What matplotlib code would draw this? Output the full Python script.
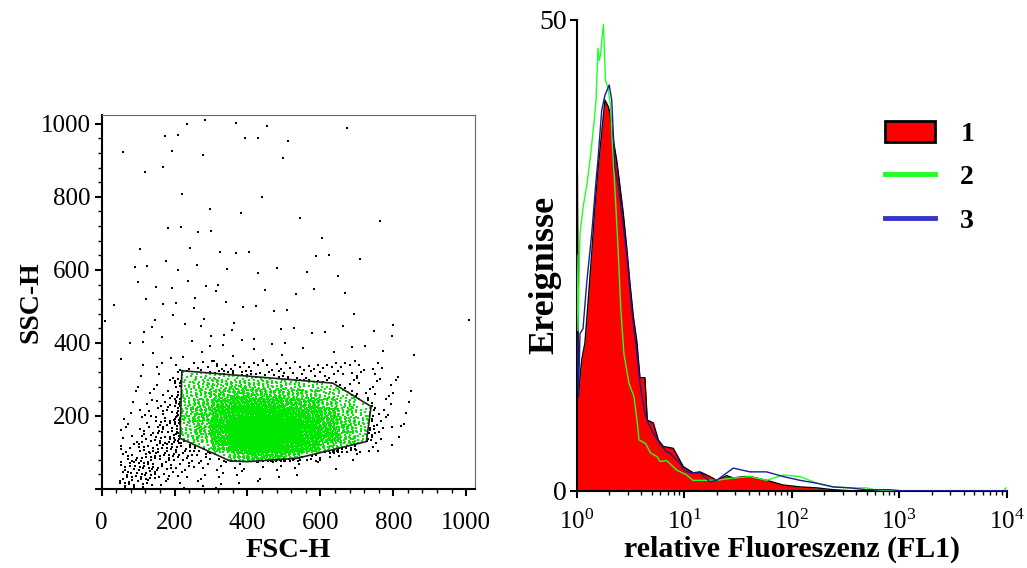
import numpy as np
import matplotlib
matplotlib.use('Agg')
import matplotlib.pyplot as plt
from matplotlib.path import Path
from matplotlib.patches import Patch, Polygon
from matplotlib.lines import Line2D
from matplotlib.ticker import MultipleLocator, LogLocator, NullFormatter

plt.rcParams['font.family'] = ['Liberation Serif', 'DejaVu Serif']
plt.rcParams['mathtext.fontset'] = 'custom'
plt.rcParams['mathtext.rm'] = 'Liberation Serif'
plt.rcParams['mathtext.it'] = 'Liberation Serif:italic'
plt.rcParams['mathtext.bf'] = 'Liberation Serif:bold'

# ---- Punktwolke FSC/SSC: Ereignisse je Zelle ----
# feines Raster: Zellen 50 (FSC) x 25 (SSC)
dichte_x0 = [50, 100, 150, 200, 250, 300, 350, 400, 450, 500, 550, 600, 650, 700, 750, 800]
dichte_y0 = [0, 25, 50, 75, 100, 125, 150, 175, 200, 225, 250, 275, 300, 325]
dichte_n = [
    [10, 6, 3, 2, 2, 2, 1, 1, 0, 0, 0, 0, 0, 0, 0, 0],
    [10, 12, 5, 3, 2, 2, 2, 1, 1, 1, 0, 0, 0, 0, 0, 0],
    [9, 12, 8, 5, 4, 3, 3, 2, 2, 2, 1, 1, 0, 0, 0, 0],
    [7, 10, 10, 8, 6, 6, 32, 40, 40, 30, 8, 3, 2, 1, 0, 0],
    [5, 9, 11, 10, 10, 38, 80, 100, 100, 80, 50, 28, 14, 3, 2, 0],
    [3, 7, 11, 13, 22, 55, 110, 130, 125, 105, 70, 45, 28, 12, 2, 1],
    [2, 5, 10, 18, 30, 60, 120, 135, 125, 105, 75, 48, 30, 14, 3, 1],
    [2, 4, 8, 20, 32, 60, 110, 120, 110, 90, 65, 45, 28, 14, 3, 1],
    [1, 3, 6, 20, 32, 52, 85, 90, 80, 68, 52, 36, 22, 11, 3, 1],
    [1, 2, 5, 18, 28, 40, 55, 55, 50, 42, 36, 26, 15, 6, 2, 1],
    [1, 2, 3, 15, 22, 28, 34, 34, 30, 26, 22, 16, 10, 3, 2, 1],
    [0, 1, 2, 12, 18, 21, 22, 20, 18, 15, 12, 10, 4, 2, 2, 1],
    [0, 1, 2, 8, 12, 13, 11, 9, 7, 5, 4, 4, 3, 2, 2, 1],
    [0, 1, 2, 3, 4, 5, 4, 4, 4, 4, 4, 4, 4, 3, 2, 0],
]
# grobes Raster fuer vereinzelte Ereignisse: Zellen 100 x 100
streu_x0 = [0, 100, 200, 300, 400, 500, 600, 700, 800, 900, 1000]
streu_y0 = [350, 450, 550, 650, 750, 850, 950]
streu_n = [
    [2, 6, 6, 6, 6, 4, 4, 5, 1, 0, 0],
    [2, 5, 5, 4, 3, 3, 2, 0, 0, 0, 1],
    [1, 4, 4, 3, 3, 2, 2, 1, 0, 0, 0],
    [0, 2, 3, 2, 0, 1, 1, 1, 0, 0, 0],
    [0, 0, 2, 1, 1, 0, 0, 0, 0, 0, 0],
    [1, 3, 1, 0, 1, 0, 0, 0, 0, 0, 0],
    [0, 1, 3, 2, 2, 1, 1, 0, 0, 0, 0],
]
# Gate (Polygon)
gate_x = [220, 634, 739, 726, 535, 400, 352, 215]
gate_y = [324, 290, 226, 130, 84, 75, 77, 139]

# ---- Histogramme FL1 (Lage in Dekaden, Ereignisse) ----
h1_dek = [0.000, 0.007, 0.015, 0.047, 0.077, 0.108, 0.140, 0.170, 0.201, 0.233, 0.263,
          0.294, 0.310, 0.340, 0.372, 0.403, 0.433, 0.465, 0.496, 0.527, 0.558,
          0.589, 0.635, 0.657, 0.713, 0.759, 0.806, 0.899, 0.992, 1.085, 1.147,
          1.240, 1.302, 1.395, 1.457, 1.550, 1.612, 1.767, 1.922, 2.078, 2.233,
          2.387, 2.540, 4.000]
h1_wert = [33.7, 33.7, 10.0, 13.9, 15.7, 20.3, 25.2, 30.2, 34.4, 38.0, 41.5,
           40.8, 40.1, 37.3, 35.1, 32.3, 29.5, 25.9, 22.0, 18.5, 16.0,
           12.0, 12.0, 7.5, 7.2, 5.4, 4.7, 4.5, 2.55, 1.9, 2.0,
           1.5, 1.1, 1.6, 1.35, 1.5, 1.5, 1.1, 0.6, 0.4, 0.3,
           0.1, 0.0, 0.0]
h2_dek = [0.003, 0.012, 0.031, 0.061, 0.099, 0.130, 0.164, 0.180, 0.198, 0.210,
          0.223, 0.238, 0.249, 0.268, 0.291, 0.314, 0.331, 0.356, 0.384, 0.412,
          0.440, 0.487, 0.533, 0.564, 0.580, 0.642, 0.688, 0.750, 0.775, 0.837,
          0.930, 1.023, 1.082, 1.147, 1.302, 1.457, 1.612, 1.767, 1.922, 2.078,
          2.233, 2.387, 2.542, 2.698, 2.775, 2.868, 3.975, 3.994]
h2_wert = [25.0, 17.0, 27.3, 30.2, 32.8, 35.7, 39.4, 41.5, 47.0, 45.7,
           46.3, 48.4, 49.5, 43.6, 42.8, 41.0, 37.0, 32.0, 26.0, 19.0,
           14.5, 11.4, 10.0, 7.2, 5.4, 5.0, 4.0, 3.6, 3.1, 3.2,
           2.2, 1.67, 1.1, 1.1, 1.1, 1.35, 1.5, 1.1, 1.67, 1.5,
           0.8, 0.4, 0.3, 0.3, 0.1, 0.0, 0.0, 0.3]
h3_dek = [0.003, 0.017, 0.031, 0.059, 0.093, 0.140, 0.186, 0.198, 0.233, 0.263,
          0.303, 0.326, 0.356, 0.387, 0.419, 0.465, 0.512, 0.558, 0.589, 0.635,
          0.666, 0.713, 0.775, 0.837, 0.868, 0.961, 0.992, 1.054, 1.147, 1.240,
          1.302, 1.457, 1.612, 1.767, 1.922, 2.078, 2.233, 2.387, 2.542, 2.698,
          2.914, 3.007, 4.000]
h3_wert = [16.7, 10.0, 16.7, 17.2, 22.0, 27.3, 33.7, 35.1, 40.4, 42.0,
           43.1, 41.5, 34.4, 32.3, 29.5, 25.2, 19.2, 14.9, 11.4, 8.2,
           7.2, 6.1, 5.0, 4.1, 4.0, 2.9, 2.2, 1.9, 1.9, 0.95,
           1.1, 2.4, 2.0, 2.0, 1.5, 1.1, 0.8, 0.4, 0.3, 0.1,
           0.1, 0.0, 0.0]


def zell_punkte(x0, y0, b, h, n, start):
    # gleichmaessige Verteilung der n Ereignisse in der Zelle (R2-Folge)
    k = np.arange(n) + start
    u = (0.5 + k * 0.7548776662466927) % 1.0
    v = (0.5 + k * 0.5698402909980532) % 1.0
    return x0 + u * b, y0 + v * h


px, py = [], []
for i, y0 in enumerate(dichte_y0):
    for j, x0 in enumerate(dichte_x0):
        a, b = zell_punkte(x0, y0, 50, 25, dichte_n[i][j], (i * 16 + j) * 53)
        px.append(a)
        py.append(b)
for i, y0 in enumerate(streu_y0):
    for j, x0 in enumerate(streu_x0):
        hh = min(100, 1024 - y0)
        bb = min(100, 1024 - x0)
        a, b = zell_punkte(x0, y0, bb, hh, streu_n[i][j], (i * 11 + j) * 71 + 7)
        px.append(a)
        py.append(b)
px = np.concatenate(px)
py = np.concatenate(py)

gate = np.column_stack([gate_x, gate_y])
innen = Path(gate).contains_points(np.column_stack([px, py]))

fig = plt.figure(figsize=(10.27, 5.68), dpi=100)
ax1 = fig.add_axes([0.099, 0.139, 0.3635, 0.6585])
ax2 = fig.add_axes([0.5615, 0.1361, 0.4187, 0.8287])

# ---- linkes Diagramm ----
ax1.scatter(px[~innen], py[~innen], s=0.6, marker='s', color='black', linewidths=0)
ax1.scatter(px[innen], py[innen], s=0.6, marker='s', color='#00e800', linewidths=0)
ax1.add_patch(Polygon(gate, closed=True, fill=False, edgecolor='#222222', linewidth=1.2))
ax1.set_xlim(0, 1024)
ax1.set_ylim(0, 1024)
ax1.set_xticks([0, 200, 400, 600, 800, 1000])
ax1.set_yticks([0, 200, 400, 600, 800, 1000], ['', '200', '400', '600', '800', '1000'])
ax1.xaxis.set_minor_locator(MultipleLocator(40))
ax1.yaxis.set_minor_locator(MultipleLocator(40))
for s in ['top', 'right']:
    ax1.spines[s].set_color('#666666')
    ax1.spines[s].set_linewidth(0.8)
for s in ['left', 'bottom']:
    ax1.spines[s].set_linewidth(1.5)
ax1.tick_params(which='major', direction='out', length=5, width=1.5, labelsize=18)
ax1.tick_params(which='minor', direction='out', length=3, width=1)
ax1.tick_params(axis='x', which='major', pad=11.5)
ax1.tick_params(axis='y', which='major', pad=3)
ax1.set_xlabel('FSC-H', fontsize=20.5, fontweight='bold', labelpad=3)
ax1.set_ylabel('SSC-H', fontsize=20, fontweight='bold')
ax1.yaxis.set_label_coords(-0.157, 0.5)

# ---- rechtes Diagramm ----
x1 = 10 ** np.array(h1_dek)
x2 = 10 ** np.array(h2_dek)
x3 = 10 ** np.array(h3_dek)
ax2.fill_between(x1, h1_wert, color='#ff0000', linewidth=0, zorder=1)
ax2.plot(x1, h1_wert, color='black', linewidth=1.0, zorder=2)
ax2.plot(x2, h2_wert, color='#22ff22', linewidth=1.0, zorder=3)
ax2.plot(x3, h3_wert, color='#1c1c90', linewidth=1.0, zorder=4)
ax2.set_xscale('log')
ax2.set_xlim(1, 1e4)
ax2.set_ylim(0, 50)
ax2.set_xticks([1, 10, 100, 1000, 10000],
               ['$10^{0}$', '$10^{1}$', '$10^{2}$', '$10^{3}$', '$10^{4}$'])
ax2.xaxis.set_minor_locator(LogLocator(base=10, subs=np.arange(2, 10)))
ax2.xaxis.set_minor_formatter(NullFormatter())
ax2.set_yticks([0, 50])
for s in ['top', 'right']:
    ax2.spines[s].set_visible(False)
for s in ['left', 'bottom']:
    ax2.spines[s].set_linewidth(1.5)
ax2.tick_params(which='major', direction='out', length=5, width=1.5)
ax2.tick_params(which='minor', direction='out', length=3, width=1)
ax2.tick_params(axis='x', which='major', labelsize=18, pad=9)
ax2.tick_params(axis='y', which='major', labelsize=20, pad=2)
ax2.set_xlabel('relative Fluoreszenz (FL1)', fontsize=21.5, fontweight='bold', labelpad=1)
ax2.set_ylabel('Ereignisse', fontsize=26, fontweight='bold')
ax2.yaxis.set_label_coords(-0.035, 0.458)

griffe = [Patch(facecolor='#ff0000', edgecolor='black', linewidth=2),
          Line2D([0], [0], color='#22ff22', linewidth=3.5),
          Line2D([0], [0], color='#3535c8', linewidth=3.5)]
fig.legend(griffe, ['1', '2', '3'], loc='upper left', bbox_to_anchor=(0.862, 0.787),
           frameon=False, prop={'size': 20, 'weight': 'bold'},
           handlelength=1.8, handleheight=0.78, handletextpad=0.9,
           labelspacing=0.62, borderpad=0, borderaxespad=0)

fig.savefig('out.png', dpi=100)
